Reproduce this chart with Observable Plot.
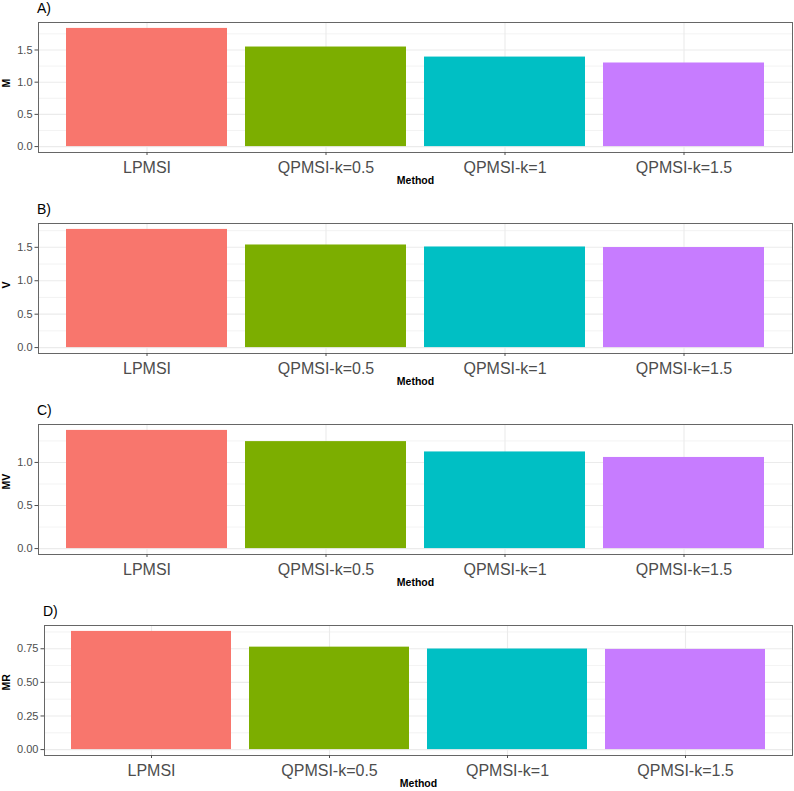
<!DOCTYPE html>
<html>
<head>
<meta charset="utf-8">
<script src="https://cdn.jsdelivr.net/npm/d3@7"></script>
<script src="https://cdn.jsdelivr.net/npm/@observablehq/plot@0.6"></script>
<style>
  body { margin: 0; background: #fff; font-family: "Liberation Sans", Arial, sans-serif; }
  #chart { width: 794px; }
  .panel-title { height: 18px; line-height: 17px; font-size: 14px; color: #000; box-sizing: border-box; }
  .panel svg { display: block; }
</style>
</head>
<body>
<div id="chart"></div>
<script>
// Selection index methods compared in every panel
const methods = ["LPMSI", "QPMSI-k=0.5", "QPMSI-k=1", "QPMSI-k=1.5"];
const methodColors = ["#F8766D", "#7CAE00", "#00BFC4", "#C77CFF"];

// Panel values, one per method
const valuesM = [1.835, 1.546, 1.39, 1.298];
const valuesV = [1.768, 1.535, 1.505, 1.497];
const valuesMV = [1.372, 1.242, 1.122, 1.058];
const valuesMR = [0.879, 0.762, 0.748, 0.745];

// Y-axis breaks per panel
const ticksM = [0, 0.5, 1, 1.5];
const ticksV = [0, 0.5, 1, 1.5];
const ticksMV = [0, 0.5, 1];
const ticksMR = [0, 0.25, 0.5, 0.75];

const panels = [
  {tag: "A)", label: "M", values: valuesM, ticks: ticksM, digits: 1, marginLeft: 38, marginBottom: 49},
  {tag: "B)", label: "V", values: valuesV, ticks: ticksV, digits: 1, marginLeft: 38, marginBottom: 49},
  {tag: "C)", label: "MV", values: valuesMV, ticks: ticksMV, digits: 1, marginLeft: 38, marginBottom: 49},
  {tag: "D)", label: "MR", values: valuesMR, ticks: ticksMR, digits: 2, marginLeft: 44, marginBottom: 36}
];

const chart = document.getElementById("chart");
const gridColor = "#EBEBEB";
const textColor = "#4D4D4D";
const frameHeight = 130;
const marginTop = 4;

for (const p of panels) {
  const data = methods.map((m, i) => ({method: m, value: p.values[i]}));
  const vmax = d3.max(p.values);
  // ggplot-style 5% expansion of the continuous range
  const domain = [-0.05 * vmax, vmax * 1.05];
  const step = p.ticks[1] - p.ticks[0];
  const minor = p.ticks.map(t => t + step / 2).filter(t => t < domain[1]);

  const plot = Plot.plot({
    width: 794,
    height: marginTop + frameHeight + p.marginBottom,
    marginTop,
    marginBottom: p.marginBottom,
    marginLeft: p.marginLeft,
    marginRight: 2,
    style: {fontFamily: "'Liberation Sans', Arial, sans-serif", background: "#fff"},
    x: {domain: methods, paddingInner: 0.1, paddingOuter: 0.15, axis: null},
    y: {domain, axis: null},
    color: {domain: methods, range: methodColors},
    marks: [
      Plot.gridY(minor, {stroke: gridColor, strokeOpacity: 1, strokeWidth: 0.6}),
      Plot.gridY(p.ticks, {stroke: gridColor, strokeOpacity: 1, strokeWidth: 1.1}),
      Plot.gridX(methods, {stroke: gridColor, strokeOpacity: 1, strokeWidth: 1.1}),
      Plot.barY(data, {x: "method", y: "value", fill: "method"}),
      Plot.frame({stroke: "#666", strokeWidth: 1}),
      Plot.axisY(p.ticks, {
        tickSize: 3.5, tickPadding: 2.5, fontSize: 11, color: textColor, label: null,
        tickFormat: d => d.toFixed(p.digits)
      }),
      Plot.axisX({
        tickSize: 3, tickPadding: 6, fontSize: 16, color: textColor, label: null
      }),
      Plot.text([p.label], {
        frameAnchor: "left", rotate: -90, dx: 6 - p.marginLeft,
        fontSize: 10.5, fontWeight: "bold", fill: "#000"
      }),
      Plot.text(["Method"], {
        frameAnchor: "bottom", dy: 31,
        fontSize: 10.5, fontWeight: "bold", fill: "#000"
      })
    ]
  });

  const block = document.createElement("div");
  block.className = "panel";
  const title = document.createElement("div");
  title.className = "panel-title";
  title.style.paddingLeft = (p.marginLeft - 1) + "px";
  title.textContent = p.tag;
  block.appendChild(title);
  block.appendChild(plot);
  chart.appendChild(block);
}
</script>
</body>
</html>
